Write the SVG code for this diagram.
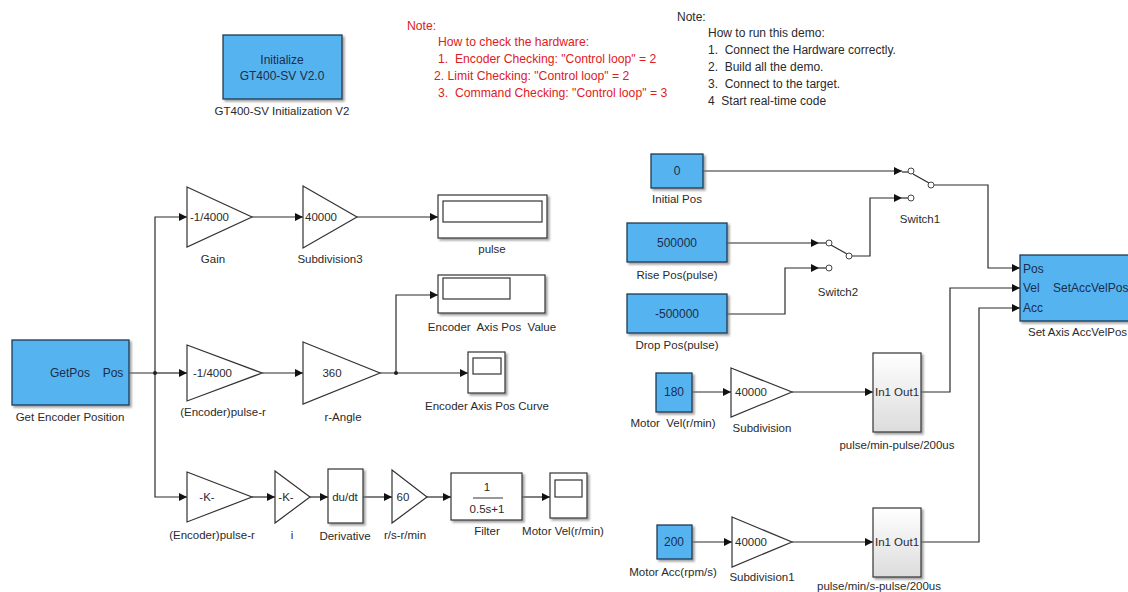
<svg xmlns="http://www.w3.org/2000/svg" width="1128" height="592" viewBox="0 0 1128 592">
<defs>
<style>
text{white-space:pre}
.t{font-family:"Liberation Sans",Arial,sans-serif;font-size:11.5px;fill:#2a2a2a}
.n{font-family:"Liberation Sans",Arial,sans-serif;font-size:12px;fill:#2a2a2a}
.bt{font-family:"Liberation Sans",Arial,sans-serif;font-size:12px;fill:#1c2c4c}
.red{font-family:"Liberation Sans",Arial,sans-serif;font-size:12.2px;fill:#e02020}
.blue{fill:#55b4f0;stroke:#1d3a55;stroke-width:1.3}
.wb{fill:#ffffff;stroke:#333;stroke-width:1.2}
.ln{fill:none;stroke:#2a2a2a;stroke-width:1.2}
.ar{fill:none;stroke:#2a2a2a;stroke-width:1.2;marker-end:url(#ah)}
.sw{fill:#fff;stroke:#444;stroke-width:1}
</style>
<marker id="ah" viewBox="0 0 8 8" refX="8" refY="4" markerWidth="8" markerHeight="8" markerUnits="userSpaceOnUse" orient="auto">
<path d="M0,0 L8,4 L0,8 z" fill="#111"/>
</marker>
<filter id="sh" x="-10%" y="-10%" width="130%" height="130%">
<feDropShadow dx="2" dy="2" stdDeviation="1" flood-color="#777" flood-opacity="0.7"/>
</filter>
<linearGradient id="gsub" x1="0" y1="0" x2="0" y2="1">
<stop offset="0" stop-color="#ffffff"/>
<stop offset="1" stop-color="#dcdcdc"/>
</linearGradient>
</defs>
<rect width="1128" height="592" fill="#ffffff"/>

<g id="init">
<rect x="223" y="35" width="119" height="64" class="blue" filter="url(#sh)"/>
<text x="282" y="64" text-anchor="middle" class="bt">Initialize</text>
<text x="282" y="80" text-anchor="middle" class="bt">GT400-SV V2.0</text>
<text x="282" y="115" text-anchor="middle" class="t">GT400-SV Initialization V2</text>
</g>

<g id="note-red">
<text x="407" y="30" class="red">Note:</text>
<text x="438" y="46" class="red">How to check the hardware:</text>
<text x="438" y="63" class="red">1.  Encoder Checking: "Control loop" = 2</text>
<text x="434" y="80" class="red">2. Limit Checking: "Control loop" = 2</text>
<text x="438" y="97" class="red">3.  Command Checking: "Control loop" = 3</text>
</g>

<g id="note-run">
<text x="677" y="21" class="n">Note:</text>
<text x="708" y="37" class="n">How to run this demo:</text>
<text x="708" y="54" class="n">1.  Connect the Hardware correctly.</text>
<text x="708" y="71" class="n">2.  Build all the demo.</text>
<text x="708" y="88" class="n">3.  Connect to the target.</text>
<text x="708" y="105" class="n">4  Start real-time code</text>
</g>

<g id="connectors">
<path d="M129,373 H155 V217 H187" class="ar"/>
<path d="M155,373 H187" class="ar"/>
<path d="M155,373 V497 H187" class="ar"/>
<circle cx="155" cy="373" r="2" fill="#222"/>
<path d="M252,217 H303" class="ar"/>
<path d="M357,217 H438" class="ar"/>
<path d="M262,373 H303" class="ar"/>
<path d="M380,373 H468" class="ar"/>
<path d="M396,373 V295 H438" class="ar"/>
<circle cx="396" cy="373" r="2" fill="#222"/>
<path d="M252,497 H275" class="ar"/>
<path d="M310,497 H328" class="ar"/>
<path d="M363,497 H392" class="ar"/>
<path d="M427,497 H451" class="ar"/>
<path d="M522,497 H550" class="ar"/>

<path d="M703,171 H902" class="ar"/>
<path d="M727,243 H819" class="ar"/>
<path d="M727,314 H785 V268 H819" class="ar"/>
<path d="M852,256 H870 V198 H902" class="ar"/>
<path d="M934,185 H988 V268 H1020" class="ar"/>
<path d="M921,392 H950 V288 H1020" class="ar"/>
<path d="M921,542 H979 V308 H1020" class="ar"/>
<path d="M692,392 H731" class="ar"/>
<path d="M792,392 H873" class="ar"/>
<path d="M692,542 H732" class="ar"/>
<path d="M792,542 H873" class="ar"/>
</g>

<g id="get-encoder-position">
<rect x="12" y="340" width="117" height="65" class="blue" filter="url(#sh)"/>
<text x="70" y="377" text-anchor="middle" class="bt">GetPos</text>
<text x="113" y="377" text-anchor="middle" class="bt">Pos</text>
<text x="70" y="421" text-anchor="middle" class="t">Get Encoder Position</text>
</g>

<g id="gain">
<path d="M187,187 L252,217 L187,247 Z" class="wb"/>
<text x="190" y="221" class="t">-1/4000</text>
<text x="213" y="263" text-anchor="middle" class="t">Gain</text>
</g>

<g id="subdivision3">
<path d="M303,186 L357,217 L303,248 Z" class="wb"/>
<text x="305" y="221" class="t">40000</text>
<text x="330" y="263" text-anchor="middle" class="t">Subdivision3</text>
</g>

<g id="pulse">
<rect x="438" y="195" width="109" height="43" class="wb" filter="url(#sh)"/>
<rect x="443" y="201" width="99" height="21" class="wb"/>
<text x="492" y="253" text-anchor="middle" class="t">pulse</text>
</g>

<g id="encoder-pulse-r-1">
<path d="M187,345 L262,373 L187,401 Z" class="wb"/>
<text x="193" y="377" class="t">-1/4000</text>
<text x="223" y="416" text-anchor="middle" class="t">(Encoder)pulse-r</text>
</g>

<g id="r-angle">
<path d="M303,342 L380,373 L303,404 Z" class="wb"/>
<text x="332" y="377" text-anchor="middle" class="t">360</text>
<text x="343" y="421" text-anchor="middle" class="t">r-Angle</text>
</g>

<g id="encoder-axis-pos-value">
<rect x="438" y="275" width="107" height="38" class="wb" filter="url(#sh)"/>
<rect x="443" y="278" width="67" height="21" class="wb"/>
<text x="492" y="331" text-anchor="middle" class="t">Encoder  Axis Pos  Value</text>
</g>

<g id="encoder-axis-pos-curve">
<rect x="468" y="352" width="37" height="41" class="wb" filter="url(#sh)"/>
<rect x="473" y="358" width="28" height="16" class="wb"/>
<text x="487" y="410" text-anchor="middle" class="t">Encoder Axis Pos Curve</text>
</g>

<g id="encoder-pulse-r-2">
<path d="M187,472 L252,497 L187,522 Z" class="wb"/>
<text x="207" y="501" text-anchor="middle" class="t">-K-</text>
<text x="212" y="539" text-anchor="middle" class="t">(Encoder)pulse-r</text>
</g>

<g id="i">
<path d="M275,471 L310,497 L275,523 Z" class="wb"/>
<text x="286" y="501" text-anchor="middle" class="t">-K-</text>
<text x="292" y="539" text-anchor="middle" class="t">i</text>
</g>

<g id="derivative">
<rect x="328" y="469" width="35" height="54" class="wb" filter="url(#sh)"/>
<text x="345" y="501" text-anchor="middle" class="t">du/dt</text>
<text x="345" y="540" text-anchor="middle" class="t">Derivative</text>
</g>

<g id="rs-rmin">
<path d="M392,470 L427,497 L392,523 Z" class="wb"/>
<text x="403" y="501" text-anchor="middle" class="t">60</text>
<text x="405" y="539" text-anchor="middle" class="t">r/s-r/min</text>
</g>

<g id="filter">
<rect x="451" y="473" width="71" height="47" class="wb" filter="url(#sh)"/>
<text x="487" y="491" text-anchor="middle" class="t">1</text>
<line x1="473" y1="498" x2="503" y2="498" stroke="#333" stroke-width="1"/>
<text x="487" y="513" text-anchor="middle" class="t">0.5s+1</text>
<text x="487" y="535" text-anchor="middle" class="t">Filter</text>
</g>

<g id="motor-vel-scope">
<rect x="550" y="473" width="37" height="45" class="wb" filter="url(#sh)"/>
<rect x="555" y="480" width="27" height="17" class="wb"/>
<text x="563" y="535" text-anchor="middle" class="t">Motor Vel(r/min)</text>
</g>

<g id="initial-pos">
<rect x="651" y="154" width="52" height="34" class="blue" filter="url(#sh)"/>
<text x="677" y="175" text-anchor="middle" class="bt">0</text>
<text x="677" y="203" text-anchor="middle" class="t">Initial Pos</text>
</g>

<g id="rise-pos">
<rect x="627" y="223" width="100" height="39" class="blue" filter="url(#sh)"/>
<text x="677" y="247" text-anchor="middle" class="bt">500000</text>
<text x="677" y="279" text-anchor="middle" class="t">Rise Pos(pulse)</text>
</g>

<g id="drop-pos">
<rect x="627" y="294" width="100" height="39" class="blue" filter="url(#sh)"/>
<text x="677" y="318" text-anchor="middle" class="bt">-500000</text>
<text x="677" y="349" text-anchor="middle" class="t">Drop Pos(pulse)</text>
</g>

<g id="switch2">
<line x1="819" y1="243" x2="826" y2="243" class="ln"/>
<line x1="819" y1="268" x2="826" y2="268" class="ln"/>
<line x1="831" y1="245" x2="847" y2="254" class="ln"/>
<circle cx="829" cy="243" r="3" class="sw"/>
<circle cx="829" cy="268" r="3" class="sw"/>
<circle cx="849" cy="256" r="3" class="sw"/>
<text x="838" y="296" text-anchor="middle" class="t">Switch2</text>
</g>

<g id="switch1">
<line x1="902" y1="172" x2="908" y2="172" class="ln"/>
<line x1="902" y1="198" x2="908" y2="198" class="ln"/>
<line x1="913" y1="174" x2="929" y2="183" class="ln"/>
<circle cx="911" cy="171" r="3" class="sw"/>
<circle cx="911" cy="198" r="3" class="sw"/>
<circle cx="931" cy="185" r="3" class="sw"/>
<text x="920" y="223" text-anchor="middle" class="t">Switch1</text>
</g>

<g id="set-axis-accvelpos">
<rect x="1020" y="255" width="115" height="66" class="blue" filter="url(#sh)"/>
<text x="1023" y="273" class="bt">Pos</text>
<text x="1023" y="292" class="bt">Vel</text>
<text x="1023" y="312" class="bt">Acc</text>
<text x="1053" y="292" class="bt">SetAccVelPos</text>
<text x="1028" y="336" class="t">Set Axis AccVelPos</text>
</g>

<g id="motor-vel">
<rect x="656" y="373" width="36" height="39" class="blue" filter="url(#sh)"/>
<text x="674" y="396" text-anchor="middle" class="bt">180</text>
<text x="673" y="427" text-anchor="middle" class="t">Motor  Vel(r/min)</text>
</g>

<g id="subdivision">
<path d="M731,368 L792,392 L731,417 Z" class="wb"/>
<text x="735" y="396" class="t">40000</text>
<text x="762" y="432" text-anchor="middle" class="t">Subdivision</text>
</g>

<g id="pulse-min-pulse-200us">
<rect x="873" y="353" width="48" height="79" fill="url(#gsub)" stroke="#333" stroke-width="1.2" filter="url(#sh)"/>
<text x="897" y="396" text-anchor="middle" class="t">In1 Out1</text>
<text x="897" y="449" text-anchor="middle" class="t">pulse/min-pulse/200us</text>
</g>

<g id="motor-acc">
<rect x="657" y="525" width="35" height="34" class="blue" filter="url(#sh)"/>
<text x="674" y="546" text-anchor="middle" class="bt">200</text>
<text x="673" y="576" text-anchor="middle" class="t">Motor Acc(rpm/s)</text>
</g>

<g id="subdivision1">
<path d="M732,517 L792,542 L732,567 Z" class="wb"/>
<text x="735" y="546" class="t">40000</text>
<text x="762" y="581" text-anchor="middle" class="t">Subdivision1</text>
</g>

<g id="pulse-min-s-pulse-200us">
<rect x="873" y="508" width="48" height="69" fill="url(#gsub)" stroke="#333" stroke-width="1.2" filter="url(#sh)"/>
<text x="879" y="590" text-anchor="middle" class="t">pulse/min/s-pulse/200us</text>
<text x="897" y="546" text-anchor="middle" class="t">In1 Out1</text>
</g>
</svg>
